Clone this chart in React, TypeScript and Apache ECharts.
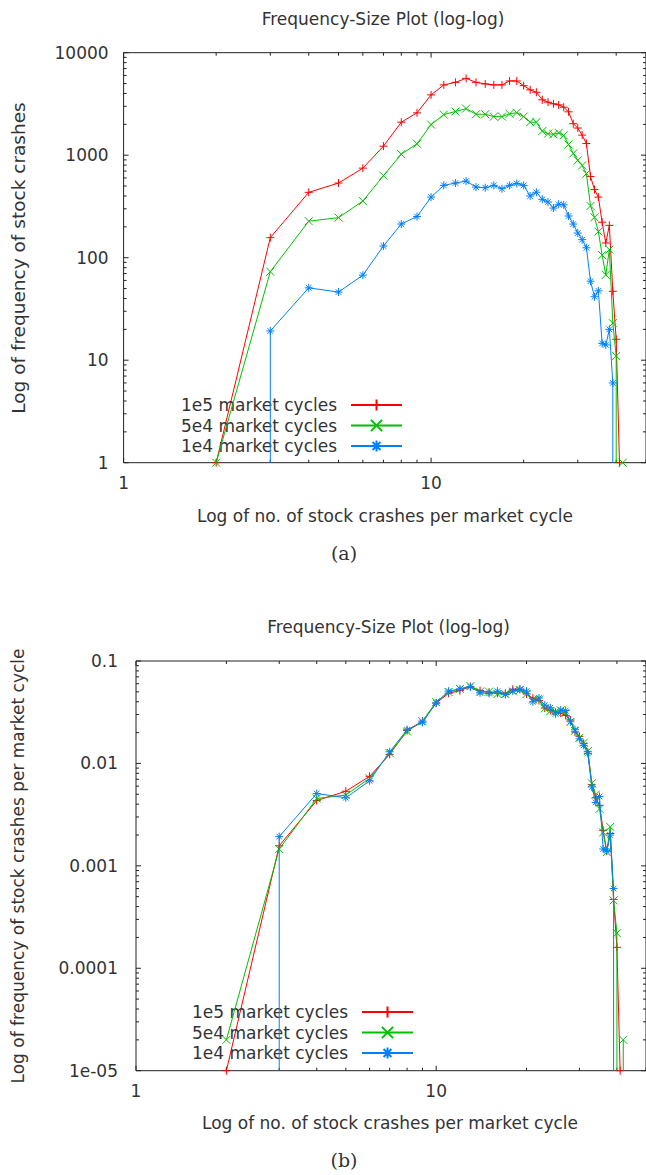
import React, { useEffect, useRef } from "react";
import * as echarts from "echarts";

// ---- data ----
const crashSizes = [2, 3, 4, 5, 6, 7, 8, 9, 10, 11, 12, 13, 14, 15, 16, 17, 18, 19, 20, 21, 22, 23, 24, 25, 26, 27, 28, 29, 30, 31, 32, 33, 34, 35, 36, 37, 38, 39, 40, 41, 42];
const freq1e5 = [1, 157, 434, 535, 748, 1225, 2099, 2590, 3875, 4850, 5140, 5620, 5140, 4960, 4850, 4850, 5300, 5300, 4770, 4340, 4110, 3470, 3290, 3170, 3100, 2940, 2650, 2030, 1840, 1570, 1300, 620, 462, 390, 222, 139, 207, 47, 16, 1, 0];
const freq5e4 = [1, 73, 227, 246, 357, 631, 1024, 1292, 1990, 2490, 2670, 2850, 2510, 2510, 2380, 2380, 2530, 2600, 2380, 2100, 2100, 1720, 1620, 1600, 1650, 1560, 1270, 1040, 890, 795, 660, 320, 248, 180, 106, 68, 120, 23, 11, 0, 1];
const freq1e4 = [0, 19.3, 50.8, 46.2, 67.6, 130, 213, 252, 390, 508, 535, 559, 489, 482, 508, 471, 508, 530, 508, 400, 435, 371, 349, 305, 332, 328, 255, 213, 174, 150, 125, 59, 41.6, 47.5, 14.6, 14.1, 20, 6, 0, 0, 0];
const seriesNames = ["1e5 market cycles", "5e4 market cycles", "1e4 market cycles"];
const cycleCounts = [1e5, 5e4, 1e4];
const xTickLabels = ["1", "10"];
const yTickLabelsA = ["1", "10", "100", "1000", "10000"];
const yTickLabelsB = ["1e-05", "0.0001", "0.001", "0.01", "0.1"];

const allFreq = [freq1e5, freq5e4, freq1e4];
const colors = ["#ff0000", "#00c000", "#0080ff"];
const symbols = [
  "path://M0,5L10,5M5,0L5,10",
  "path://M0,0L10,10M10,0L0,10",
  "path://M0,5L10,5M5,0L5,10M1.5,1.5L8.5,8.5M8.5,1.5L1.5,8.5",
];
const FONT = "'DejaVu Sans', sans-serif";
const TXT = "#333";
const BORDER = "#222";

const xRange = [1, 50];
const yRangeA = [1, 10000];
const yRangeB = [1e-5, 0.1];

function logTickValues(min: number, max: number) {
  const out: number[] = [];
  const e0 = Math.floor(Math.log10(min) + 1e-9);
  const e1 = Math.ceil(Math.log10(max) - 1e-9);
  for (let e = e0; e <= e1; e++) {
    for (let k = 1; k <= 9; k++) {
      const v = k * Math.pow(10, e);
      if (v >= min * (1 - 1e-9) && v <= max * (1 + 1e-9)) out.push(v);
    }
  }
  return out;
}

function isDecade(v: number) {
  const l = Math.log10(v);
  return Math.abs(l - Math.round(l)) < 1e-6;
}

function labelFormatter(labels: string[], minVal: number) {
  const e0 = Math.round(Math.log10(minVal));
  return (v: number) => {
    if (!isDecade(v)) return "";
    const idx = Math.round(Math.log10(v)) - e0;
    return labels[idx] ?? "";
  };
}

// zero counts cannot sit on a log axis: like gnuplot, the line drops to the
// axis floor at the neighbouring size and breaks.
function buildLine(values: number[], scale: number, yFloor: number) {
  const pts: any[] = [];
  for (let i = 0; i < crashSizes.length; i++) {
    const n = crashSizes[i];
    const raw = values[i];
    if (raw > 0) {
      if (i > 0 && values[i - 1] === 0) pts.push({ value: [n, yFloor], symbol: "none" });
      pts.push({ value: [n, raw / scale] });
    } else {
      if (i > 0 && values[i - 1] > 0) pts.push({ value: [crashSizes[i - 1], yFloor], symbol: "none" });
      pts.push({ value: [n, "-"] });
    }
  }
  return pts;
}

function tickSeries(gridIdx: number, xr: number[], yr: number[]) {
  const major = 5;
  const minor = 3;
  const xt = logTickValues(xr[0], xr[1]).map((v) => [v, yr[0]]);
  const yt = logTickValues(yr[0], yr[1]).map((v) => [xr[0], v]);
  const common = {
    type: "custom",
    xAxisIndex: gridIdx,
    yAxisIndex: gridIdx,
    silent: true,
    clip: false,
    z: 1,
    animation: false,
  };
  return [
    {
      ...common,
      name: "xticks" + gridIdx,
      data: xt,
      encode: { x: 0, y: 1 },
      renderItem: (params: any, api: any) => {
        const v = api.value(0);
        const len = isDecade(v) ? major : minor;
        const b = api.coord([v, yr[0]]);
        const t = api.coord([v, yr[1]]);
        const st = { stroke: BORDER, lineWidth: 1 };
        return {
          type: "group",
          children: [
            { type: "line", shape: { x1: b[0], y1: b[1], x2: b[0], y2: b[1] - len }, style: st },
            { type: "line", shape: { x1: t[0], y1: t[1], x2: t[0], y2: t[1] + len }, style: st },
          ],
        };
      },
    },
    {
      ...common,
      name: "yticks" + gridIdx,
      data: yt,
      encode: { x: 0, y: 1 },
      renderItem: (params: any, api: any) => {
        const v = api.value(1);
        const len = isDecade(v) ? major : minor;
        const l = api.coord([xr[0], v]);
        const r = api.coord([xr[1], v]);
        const st = { stroke: BORDER, lineWidth: 1 };
        return {
          type: "group",
          children: [
            { type: "line", shape: { x1: l[0], y1: l[1], x2: l[0] + len, y2: l[1] }, style: st },
            { type: "line", shape: { x1: r[0], y1: r[1], x2: r[0] - len, y2: r[1] }, style: st },
          ],
        };
      },
    },
  ];
}

function dataSeries(gridIdx: number, normalized: boolean, yFloor: number) {
  return allFreq.map((vals, k) => ({
    type: "line",
    name: seriesNames[k],
    xAxisIndex: gridIdx,
    yAxisIndex: gridIdx,
    data: buildLine(vals, normalized ? cycleCounts[k] : 1, yFloor),
    symbol: symbols[k],
    symbolSize: 8,
    symbolKeepAspect: true,
    showSymbol: true,
    connectNulls: false,
    clip: true,
    color: colors[k],
    itemStyle: { color: colors[k], borderColor: colors[k], borderWidth: 1 },
    lineStyle: { color: colors[k], width: 1 },
    emphasis: { disabled: true },
    z: 3 + k,
  }));
}

function axisX(gridIdx: number, margin: number) {
  return {
    type: "log",
    logBase: 10,
    gridIndex: gridIdx,
    min: xRange[0],
    max: xRange[1],
    axisLine: { show: false },
    axisTick: { show: false },
    splitLine: { show: false },
    minorTick: { show: false },
    axisLabel: {
      margin,
      color: TXT,
      fontFamily: FONT,
      fontSize: 17,
      showMaxLabel: false,
      formatter: labelFormatter(xTickLabels, xRange[0]),
    },
  };
}

function axisY(gridIdx: number, yr: number[], labels: string[], margin: number) {
  return {
    type: "log",
    logBase: 10,
    gridIndex: gridIdx,
    min: yr[0],
    max: yr[1],
    axisLine: { show: false },
    axisTick: { show: false },
    splitLine: { show: false },
    minorTick: { show: false },
    axisLabel: {
      margin,
      color: TXT,
      fontFamily: FONT,
      fontSize: 17,
      formatter: labelFormatter(labels, yr[0]),
    },
  };
}

function legendAt(left: number, top: number) {
  return {
    data: seriesNames,
    orient: "vertical",
    align: "right",
    left,
    top,
    itemWidth: 51,
    itemHeight: 14,
    itemGap: 3.5,
    selectedMode: false,
    textStyle: {
      color: TXT,
      fontFamily: FONT,
      fontSize: 17,
      lineHeight: 17,
      padding: [0, 9, 0, 0],
    },
  };
}

function txt(text: string, x: number, y: number, opts: any = {}) {
  return {
    type: "text",
    x,
    y,
    rotation: opts.rotation || 0,
    silent: true,
    style: {
      text,
      fill: TXT,
      fontFamily: opts.fontFamily || FONT,
      fontSize: opts.fontSize || 17,
      align: "center",
      verticalAlign: "middle",
    },
  };
}

export default function App() {
  const ref = useRef<HTMLDivElement>(null);
  useEffect(() => {
    if (!ref.current) return;
    const chart = echarts.init(ref.current, null, { renderer: "svg" });
    const option: any = {
      animation: false,
      backgroundColor: "#ffffff",
      grid: [
        { left: 123.6, top: 52.7, width: 523.3, height: 410, show: true, borderColor: BORDER, borderWidth: 1, backgroundColor: "transparent" },
        { left: 136, top: 661, width: 511, height: 409.7, show: true, borderColor: BORDER, borderWidth: 1, backgroundColor: "transparent" },
      ],
      xAxis: [axisX(0, 12), axisX(1, 12)],
      yAxis: [axisY(0, yRangeA, yTickLabelsA, 15), axisY(1, yRangeB, yTickLabelsB, 18)],
      legend: [legendAt(176, 391.5), legendAt(187, 998.5)],
      series: [
        ...tickSeries(0, xRange, yRangeA),
        ...tickSeries(1, xRange, yRangeB),
        ...dataSeries(0, false, yRangeA[0]),
        ...dataSeries(1, true, yRangeB[0]),
      ],
      graphic: [
        txt("Frequency-Size Plot (log-log)", 383, 19),
        txt("Log of frequency of stock crashes", 18.5, 258, { rotation: Math.PI / 2, fontSize: 18.5 }),
        txt("Log of no. of stock crashes per market cycle", 385, 516),
        txt("(a)", 344, 553, { fontFamily: "'DejaVu Serif', serif", fontSize: 19 }),
        txt("Frequency-Size Plot (log-log)", 388.5, 627),
        txt("Log of frequency of stock crashes per market cycle", 18, 866, { rotation: Math.PI / 2 }),
        txt("Log of no. of stock crashes per market cycle", 390, 1123),
        txt("(b)", 344, 1160, { fontFamily: "'DejaVu Serif', serif", fontSize: 19 }),
      ],
    };
    chart.setOption(option);
    return () => chart.dispose();
  }, []);
  return (
    <div
      ref={ref}
      style={{ position: "absolute", left: 0, top: 0, width: 646, height: 1175, background: "#fff" }}
    />
  );
}
